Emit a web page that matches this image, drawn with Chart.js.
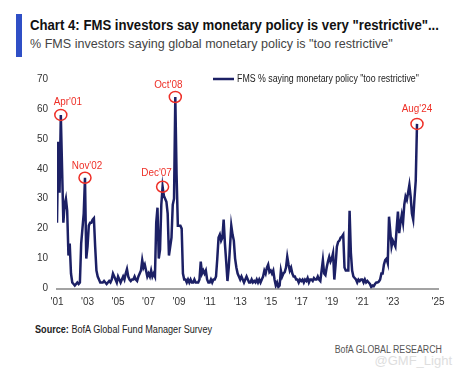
<!DOCTYPE html>
<html>
<head>
<meta charset="utf-8">
<script src="https://cdn.jsdelivr.net/npm/chart.js@4.4.1/dist/chart.umd.min.js"></script>
<style>
  html, body { margin: 0; padding: 0; background: #fff; }
  body { width: 458px; height: 375px; position: relative; overflow: hidden;
         font-family: "Liberation Sans", Arial, sans-serif; }
  .bar { position: absolute; left: 16px; top: 14px; width: 6px; height: 43px; background: #2f4fc6; }
  .title { position: absolute; left: 30px; top: 17px; font-size: 14px; line-height: 16px; font-weight: bold; color: #111;
           white-space: nowrap; transform: scaleX(0.94); transform-origin: left center; }
  .subtitle { position: absolute; left: 30px; top: 36px; font-size: 13.5px; line-height: 16px; color: #444;
              white-space: nowrap; transform: scaleX(0.93); transform-origin: left center; }
  #wrap { position: absolute; left: 0; top: 60px; width: 458px; height: 250px; }
  .source { position: absolute; left: 35px; top: 323px; font-size: 10px; line-height: 14px; color: #222;
            white-space: nowrap; transform: scaleX(0.91); transform-origin: left center; }
  .brand { position: absolute; right: 16px; top: 343px; font-size: 10px; line-height: 14px; color: #555;
           white-space: nowrap; transform: scaleX(0.88); transform-origin: right center; }
  .mark { position: absolute; right: 6px; top: 354px; font-size: 13px; line-height: 14px; color: #dedede; white-space: nowrap; }
</style>
</head>
<body>
<div class="bar"></div>
<div class="title">Chart 4: FMS investors say monetary policy is very "restrictive"...</div>
<div class="subtitle">% FMS investors saying global monetary policy is "too restrictive"</div>
<div id="wrap"><canvas id="fms"></canvas></div>
<div class="source"><b>Source:</b> BofA Global Fund Manager Survey</div>
<div class="brand">BofA GLOBAL RESEARCH</div>
<div class="mark">@GMF_Light</div>
<script>
// monthly, starting Jan 2001, ending Aug 2024
const startYear = 2001;
const fmsTooRestrictive = [
    22, 49, 32, 58, 40, 22, 28, 30, 26, 11, 15, 5,          // 2001
    2, 1.5, 1, 1.5, 2, 1.5, 2, 15, 20, 25, 37, 10,          // 2002
    14, 21, 22, 22, 23, 23.5, 14, 6, 4, 3, 2, 2,            // 2003
    2, 2.5, 2, 1.5, 2, 2.5, 2, 3, 5, 4, 3, 2,               // 2004
    4, 3, 2, 3, 4, 3, 5, 6.5, 4, 3, 2.5, 3,                 // 2005
    3, 4, 3, 2.5, 4, 5, 6, 9.5, 7, 8, 6, 4,                 // 2006
    5, 4, 6, 4, 5, 4, 22, 27, 10, 13, 28, 34,               // 2007
    31, 30, 29, 25, 11, 14, 17, 28, 30, 64, 38, 21,         // 2008
    21, 21, 20, 5, 3, 3, 2, 3, 2, 3, 2, 2,                  // 2009
    3, 2, 2, 2, 3, 9, 5, 6, 5, 6, 3, 2,                     // 2010
    2, 3, 2, 3, 3, 4, 10, 17, 18, 16, 17, 23,               // 2011
    15, 9, 2.5, 7, 14, 21, 18, 16, 10, 7, 5, 4,             // 2012
    3, 4, 3, 2, 3, 4, 3, 2, 2, 3, 2, 2.5,                   // 2013
    2, 3, 2, 3, 2, 3, 4, 6, 5, 7, 8, 5.5,                   // 2014
    6, 5, 6, 3, 1, 2, 0.5, 1, 6, 4, 5, 5.5,                 // 2015
    7, 10.6, 8, 6, 7, 5, 4, 4, 3, 3, 2, 3,                  // 2016
    2.5, 3, 2, 3, 2.5, 3.5, 2, 3, 3, 2.5, 3.5, 3,           // 2017
    3, 4, 3, 2.5, 6, 9.5, 5, 4.5, 7, 9, 10.6, 9,            // 2018
    10, 11.8, 3, 8, 14, 15.6, 16, 17, 17.3, 18, 7, 6,       // 2019
    6, 6, 26, 12, 6, 4, 3.5, 3, 2, 3, 2.5, 3,               // 2020
    3, 2, 3, 2, 2.5, 2, 1.5, 0.5, 1, 0.8, 1.5, 2,           // 2021
    2, 2.3, 3, 5, 5, 8, 9.5, 10, 8.5, 24, 19, 14,           // 2022
    16, 15, 14, 20, 25.7, 18.5, 22, 24.6, 22, 28, 30.7, 29.6, // 2023
    32, 34.6, 30.7, 25, 23, 30, 36, 55                      // 2024
];
const yearTicks = ["'01", "'03", "'05", "'07", "'09", "'11", "'13", "'15", "'17", "'19", "'21", "'23", "'25"];
const peakLabels = ["Apr'01", "Nov'02", "Dec'07", "Oct'08", "Aug'24"];
const peakMonths = [3, 22, 83, 93, 283];

const seriesName = 'FMS % saying monetary policy "too restrictive"';
const lineColor = '#1c2065';
const red = '#ee2f27';
const fontFam = '"Liberation Sans", Arial, sans-serif';

// squeezed text, the original uses a narrow face
function narrowText(ctx, text, x, y, sx) {
    ctx.save();
    ctx.translate(x, y);
    ctx.scale(sx, 1);
    ctx.fillText(text, 0, 0);
    ctx.restore();
}

// peak circles + labels, and the little legend top right
const peakMarks = {
    id: 'peakMarks',
    afterDatasetsDraw(chart) {
        const { ctx, scales: { x, y }, chartArea } = chart;
        const shift = [[7, -13], [2, -12], [-6, -14], [-7, -12], [0, -15]];
        ctx.save();
        peakMonths.forEach((m, i) => {
            const px = x.getPixelForValue(m);
            const py = y.getPixelForValue(fmsTooRestrictive[m]);
            ctx.beginPath();
            ctx.ellipse(px, py, 6, 5.5, 0, 0, Math.PI * 2);
            ctx.strokeStyle = red;
            ctx.lineWidth = 1.5;
            ctx.stroke();
            ctx.font = '11px ' + fontFam;
            ctx.fillStyle = red;
            ctx.textAlign = 'center';
            ctx.textBaseline = 'middle';
            narrowText(ctx, peakLabels[i], px + shift[i][0], py + shift[i][1], 0.9);
        });

        // legend
        const ly = chartArea.top;
        ctx.beginPath();
        ctx.moveTo(213, ly);
        ctx.lineTo(234, ly);
        ctx.strokeStyle = lineColor;
        ctx.lineWidth = 2.5;
        ctx.stroke();
        ctx.font = '10px ' + fontFam;
        ctx.fillStyle = '#222';
        ctx.textAlign = 'left';
        ctx.textBaseline = 'middle';
        narrowText(ctx, seriesName, 237, ly, 0.88);
        ctx.restore();
    }
};

new Chart(document.getElementById('fms'), {
    type: 'line',
    data: {
        datasets: [{
            label: seriesName,
            data: fmsTooRestrictive.map((v, i) => ({ x: i, y: v })),
            borderColor: lineColor,
            borderWidth: 2.5,
            pointRadius: 0,
            tension: 0
        }]
    },
    options: {
        responsive: true,
        maintainAspectRatio: false,
        animation: false,
        layout: { padding: { top: 19, right: 20, left: 0, bottom: 0 } },
        plugins: { legend: { display: false }, tooltip: { enabled: false } },
        scales: {
            x: {
                type: 'linear',
                min: 0,
                max: 299.5,
                grid: { display: false, drawTicks: false },
                border: { color: '#a3a3a3', width: 2 },
                ticks: {
                    stepSize: 24,
                    padding: 8,
                    color: '#333',
                    font: { family: fontFam, size: 10 },
                    maxRotation: 0,
                    autoSkip: false,
                    callback: (v) => yearTicks[Math.round(v / 24)]
                },
                afterFit: (s) => { s.height = 21.5; }
            },
            y: {
                min: 0,
                max: 70,
                grid: { display: false, drawTicks: false },
                border: { display: false },
                ticks: {
                    stepSize: 10,
                    padding: 9,
                    color: '#333',
                    font: { family: fontFam, size: 10 }
                },
                afterFit: (s) => { s.width = 57; }
            }
        }
    },
    plugins: [peakMarks]
});
</script>
</body>
</html>
